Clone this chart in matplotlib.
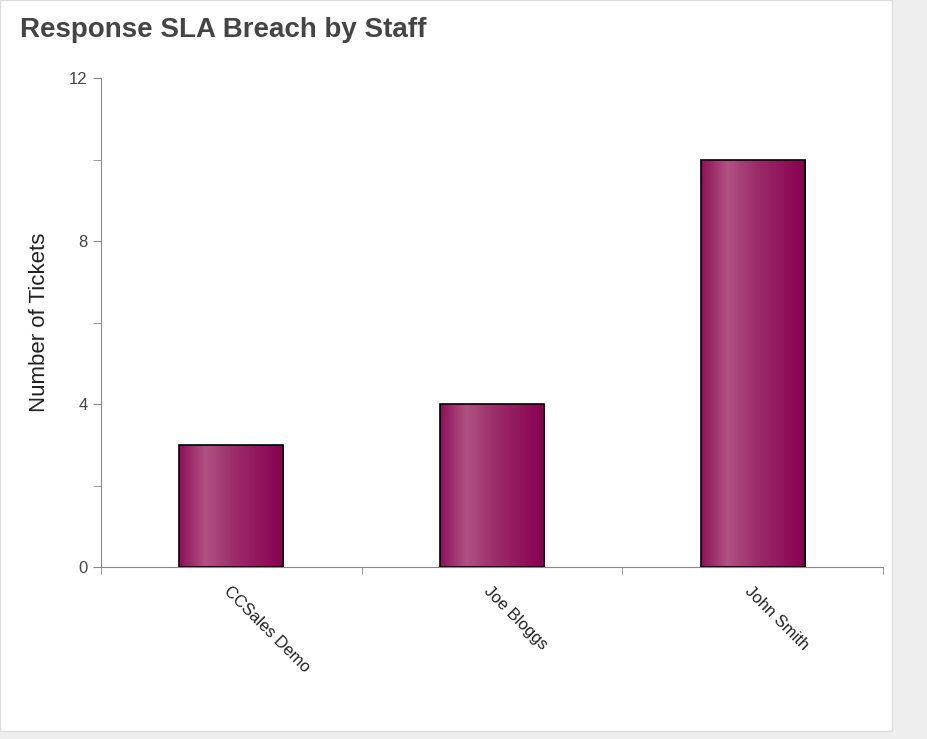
import matplotlib
matplotlib.use("Agg")
import matplotlib.pyplot as plt
import numpy as np
from matplotlib.colors import LinearSegmentedColormap
from matplotlib.patches import Rectangle

staff = ["CCSales Demo", "Joe Bloggs", "John Smith"]
tickets = [3, 4, 10]

W, H = 928, 739
fig = plt.figure(figsize=(W/100, H/100), dpi=100)
fig.patch.set_facecolor("#eeeeee")
fig.patches.append(Rectangle((0, 8/H), 892/W, 1-8/H, transform=fig.transFigure,
                             facecolor="white", edgecolor="#dddddd", zorder=-1))
ax = fig.add_axes([101/W, (H-567)/H, (883-101)/W, (567-78)/H])
ax.set_facecolor("none")

cmap = LinearSegmentedColormap.from_list("g", [(0, "#8c1058"), (0.25, "#b05282"),
                                              (0.55, "#9a2a68"), (1, "#880050")])
grad = np.linspace(0, 1, 256).reshape(1, -1)
x = np.arange(len(staff))
w = 0.4
bars = ax.bar(x, tickets, width=w, facecolor="none", edgecolor="black", linewidth=1.2, zorder=3)
for b in bars:
    im = ax.imshow(grad, cmap=cmap, aspect="auto", zorder=2,
                   extent=[b.get_x(), b.get_x()+b.get_width(), 0, b.get_height()])
    im.set_clip_path(b)

ax.set_xlim(-0.5, len(staff)-0.5)
ax.set_ylim(0, 12)
ax.set_yticks([0, 4, 8, 12])
ax.set_yticks([2, 6, 10], minor=True)
ax.set_xticks(np.arange(len(staff)+1)-0.5, minor=True)
ax.set_xticks(x)
ax.set_xticklabels(staff, rotation=-45, ha="left", va="top", rotation_mode="anchor",
                   fontsize=12, color="#222222", family="Liberation Sans")
ax.tick_params(axis="x", which="major", length=0, pad=12)
ax.tick_params(axis="x", which="minor", length=5, color="#888888")
ax.tick_params(axis="y", which="both", length=6, color="#888888", direction="out")
for lab in ax.get_yticklabels():
    lab.set_fontsize(12); lab.set_color("#444444"); lab.set_family("Liberation Sans")
for s in ["top", "right"]:
    ax.spines[s].set_visible(False)
for s in ["left", "bottom"]:
    ax.spines[s].set_color("#888888")
ax.set_ylabel("Number of Tickets", fontsize=16, color="#222222", family="Liberation Sans", labelpad=14)
fig.text(20/W, 1-30/H, "Response SLA Breach by Staff", fontsize=20, fontweight="bold",
         color="#444444", family="Liberation Sans", va="center")
fig.savefig("out.png", dpi=100)
